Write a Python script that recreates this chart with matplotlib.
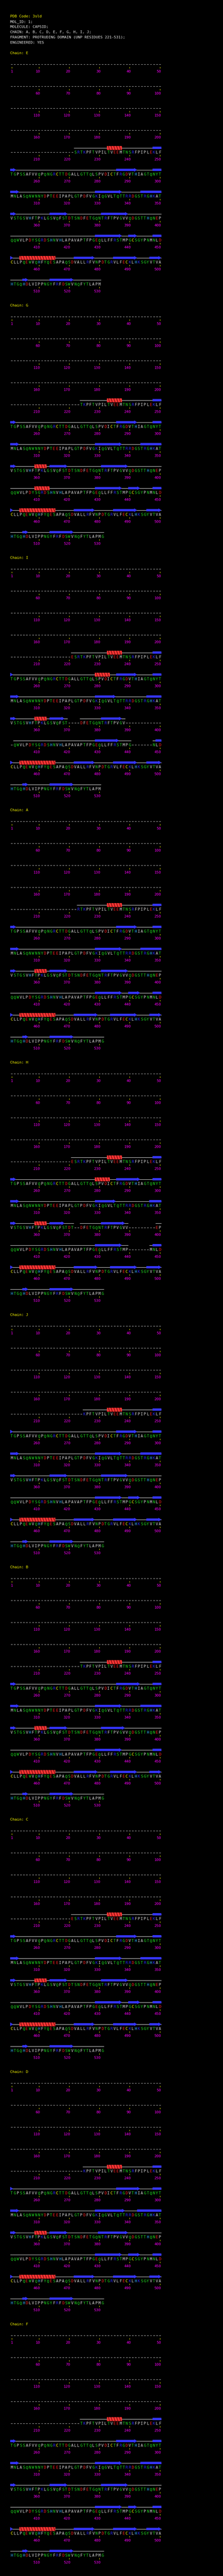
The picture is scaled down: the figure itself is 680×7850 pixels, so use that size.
import matplotlib
matplotlib.use("Agg")
import matplotlib.pyplot as plt
from matplotlib.patches import Polygon, Rectangle
from matplotlib.collections import LineCollection

# ---------------------------------------------------------------- data
PDB_CODE = "3sld"
HEADER_LINES = [
    "MOL_ID: 1;",
    "MOLECULE: CAPSID;",
    "CHAIN: A, B, C, D, E, F, G, H, I, J;",
    "FRAGMENT: PROTRUDING DOMAIN (UNP RESIDUES 221-531);",
    "ENGINEERED: YES",
]

SEQ_FIRST = 221
SEQ_ROWS = [
    "E",
    "SRTKPFTVPILTVEEMTNSRFPIPLEKLF",
    "TGPSSAFVVQPQNGRCTTDGALLGTTQLSPVDICTFRGDVTHIAGTQNYT",
    "MNLASQNWNNYDPTEEIPAPLGTPDFVGKIQGVLTQTTRRDGSTRGHKAT",
    "VSTGSVHFTPKLGSVQFSTDTSNDFETGQNTRFTPVGVVQDGSTTHQNEP",
    "QQWVLPDYSGRDSHNVHLAPAVAPTFPGEQLLFFRSTMPGCSGYPNMNLD",
    "CLLPQEWVQHFYQESAPAQSDVALLRFVNPDTGRVLFECKLHKSGYVTVA",
    "HTGQHDLVIPPNGYFRFDSWVNQFYTLAPMG",
]
SEQUENCE = "".join(SEQ_ROWS)
NUMBERING_END = 531

CHAINS = ["E", "G", "I", "A", "H", "J", "B", "C", "D", "F"]
CHAIN_FIRST = [222, 224, 221, 223, 221, 225, 224, 221, 225, 224]
CHAIN_LAST = [530, 531, 530, 531, 531, 531, 531, 531, 531, 531]
CHAIN_GAPS = {
    "I": [(370, 373), (389, 401), (441, 447)],
    "H": [(372, 373), (390, 398), (440, 446)],
}
CHAIN_HELICES = {
    "E": [(233, 237), (454, 465)],
    "G": [(233, 237), (359, 362), (409, 413), (454, 465)],
    "I": [(233, 237), (279, 283), (359, 362), (454, 465)],
    "A": [(233, 237), (359, 362), (454, 465)],
    "H": [(233, 237), (279, 283), (359, 362), (454, 465)],
    "J": [(233, 237), (454, 465)],
    "B": [(233, 237), (359, 362), (454, 465)],
    "C": [(233, 237), (359, 362), (454, 465)],
    "D": [(233, 237), (359, 362), (454, 465)],
    "F": [(233, 237), (454, 465)],
}
CHAIN_STRANDS = {
    "E": [(248, 252), (286, 292), (298, 303), (329, 337), (344, 352), (364, 369), (381, 389),
          (429, 437), (440, 442), (448, 451), (472, 478), (485, 492), (497, 500), (505, 506), (514, 521)],
    "G": [(248, 252), (286, 292), (298, 303), (329, 337), (344, 352), (364, 369), (381, 389),
          (429, 437), (440, 443), (448, 451), (472, 478), (485, 492), (496, 500), (505, 506), (514, 521)],
    "I": [(248, 251), (286, 292), (298, 303), (329, 335), (346, 352), (364, 368), (381, 387),
          (429, 436), (449, 451), (472, 478), (485, 492), (496, 500), (505, 506), (514, 521)],
    "A": [(248, 252), (286, 292), (298, 303), (329, 337), (344, 352), (364, 369), (381, 389),
          (429, 437), (440, 443), (448, 451), (472, 479), (484, 492), (497, 500), (505, 506), (514, 521)],
    "H": [(248, 252), (286, 293), (298, 303), (329, 335), (347, 352), (364, 368), (381, 388),
          (429, 437), (448, 451), (472, 479), (484, 492), (496, 500), (505, 506), (514, 521)],
    "J": [(248, 251), (286, 292), (298, 303), (329, 337), (344, 352), (364, 369), (381, 389),
          (429, 437), (440, 443), (448, 451), (472, 478), (485, 492), (496, 500), (505, 506), (514, 521)],
    "B": [(248, 252), (286, 293), (298, 303), (329, 337), (344, 352), (364, 369), (381, 388),
          (429, 437), (448, 451), (472, 479), (484, 492), (497, 500), (505, 506), (514, 521)],
    "C": [(248, 252), (286, 292), (298, 303), (329, 337), (344, 352), (364, 369), (381, 389),
          (429, 437), (440, 443), (448, 451), (472, 478), (485, 492), (497, 500), (505, 506), (514, 521)],
    "D": [(248, 251), (286, 293), (298, 303), (329, 338), (343, 352), (364, 369), (380, 389),
          (429, 437), (440, 443), (448, 451), (472, 478), (485, 492), (497, 500), (505, 506), (514, 521)],
    "F": [(248, 252), (286, 292), (298, 303), (329, 337), (344, 352), (364, 369), (381, 389),
          (429, 437), (440, 442), (448, 451), (472, 478), (485, 492), (496, 500), (505, 506), (514, 521)],
}

AA_GROUPS = {
    "polar": "STNQGYW",
    "hydrophobic": "AVLIPFM",
    "acidic": "DE",
    "basic": "RK",
    "cys": "C",
    "his": "H",
}

# ---------------------------------------------------------------- style
W, H = 680, 7850
MONO = ["DejaVu Sans Mono"]
GROUP_COLORS = {
    "polar": "#22dd22",
    "hydrophobic": "#dcdcdc",
    "acidic": "#ff2020",
    "basic": "#2a2aff",
    "cys": "#ffff00",
    "his": "#33b0ff",
}
YELLOW = "#ffff00"
WHITE = "#f0f0f0"
MAGENTA = "#ff00ff"
DASH_COL = "#c8c8c8"
STRAND_COL = "#3535ff"
HELIX_BRIGHT = "#ff3535"
HELIX_DARK = "#8c1616"

X0, DX = 35.67, 9.2245
PER_ROW = 50
TEXT_X = 31.0
HEADER_Y0, HEADER_DY = 48.7, 16.0
CHAIN_Y0, CHAIN_PITCH = 160.7, 769.0
FIRST_ROW_DY, ROW_PITCH = 35.3, 67.0
SS_DY = 13.3
FS_TXT = 8.2
FS_RES = 8.4
CAP = 0.729

fig = plt.figure(figsize=(W / 100, H / 100), dpi=100, facecolor="black")
ax = fig.add_axes([0, 0, 1, 1])
ax.set_xlim(0, W)
ax.set_ylim(H, 0)
ax.axis("off")
ax.set_facecolor("black")


def em(fs):
    return fs * 100.0 / 72.0


def ctext(x, y, s, color, fs, ha="left"):
    ax.text(x, y + CAP * em(fs) / 2.0, s, color=color, fontsize=fs,
            family=MONO, ha=ha, va="baseline")


res_color = {}
for grp, letters in AA_GROUPS.items():
    for c in letters:
        res_color[c] = GROUP_COLORS[grp]


def draw_helix(xl, xr, yc):
    h = 12.2
    rect = Rectangle((xl, yc - h / 2), xr - xl, h, facecolor=HELIX_DARK,
                     edgecolor="none", zorder=3)
    ax.add_patch(rect)
    period, sw, slant = 8.4, 5.6, 4.2
    x = xl - slant + 1.0
    while x < xr:
        p = Polygon([(x, yc - h / 2), (x + sw, yc - h / 2),
                     (x + sw + slant, yc + h / 2), (x + slant, yc + h / 2)],
                    closed=True, facecolor=HELIX_BRIGHT, edgecolor="none", zorder=4)
        ax.add_patch(p)
        p.set_clip_path(rect)
        x += period


def draw_strand(xl, xr, yc, head):
    hb, hh = 3.4, 5.6
    if head:
        tip = xr - 0.6
        hl = min(8.6, tip - xl)
        if tip - xl <= 8.6:
            pts = [(xl, yc - hh), (tip, yc), (xl, yc + hh)]
        else:
            pts = [(xl, yc - hb), (tip - hl, yc - hb), (tip - hl, yc - hh), (tip, yc),
                   (tip - hl, yc + hh), (tip - hl, yc + hb), (xl, yc + hb)]
    else:
        pts = [(xl, yc - hb), (xr, yc - hb), (xr, yc + hb), (xl, yc + hb)]
    ax.add_patch(Polygon(pts, closed=True, facecolor=STRAND_COL, edgecolor="none", zorder=3))


# ---------------------------------------------------------------- header
ctext(TEXT_X, HEADER_Y0, f"PDB Code: {PDB_CODE}", YELLOW, FS_TXT)
for i, line in enumerate(HEADER_LINES):
    ctext(TEXT_X, HEADER_Y0 + HEADER_DY * (i + 1), line, WHITE, FS_TXT)

n_rows = (NUMBERING_END + PER_ROW - 1) // PER_ROW
adv = 0.602 * em(FS_TXT)

for k, ch in enumerate(CHAINS):
    L = CHAIN_Y0 + CHAIN_PITCH * k
    ctext(TEXT_X, L, f"Chain: {ch}", YELLOW, FS_TXT)
    first, last = CHAIN_FIRST[k], CHAIN_LAST[k]
    gaps = CHAIN_GAPS.get(ch, [])

    def in_gap(r):
        return any(a <= r <= b for a, b in gaps)

    def present(r):
        return first <= r <= last and not in_gap(r)

    dash_segs, tick_segs, coil_segs = [], [], []
    for row in range(n_rows):
        y = L + FIRST_ROW_DY + ROW_PITCH * row
        ss_y = y - SS_DY
        r0 = row * PER_ROW + 1
        r1 = min(r0 + PER_ROW - 1, NUMBERING_END)

        def xr_(r):
            return X0 + DX * (r - r0)

        run_start = None
        for r in range(r0, r1 + 1):
            x = xr_(r)
            if present(r):
                aa = SEQUENCE[r - SEQ_FIRST]
                ctext(x, y, aa, res_color[aa], FS_RES, ha="center")
                if run_start is None:
                    run_start = r
            else:
                if r < first or in_gap(r):
                    dash_segs.append([(x - 2.4, y), (x + 2.4, y)])
                if run_start is not None:
                    coil_segs.append([(xr_(run_start) - DX / 2, ss_y), (xr_(r - 1) + DX / 2, ss_y)])
                    run_start = None
            if r == 1 or (r % 10 == 0):
                tick_segs.append([(x, y + 7.8), (x, y + 12.3)])
                s = str(r)
                ctext(x - (len(s) - 1) * adv / 2.0, y + 21.2, s, MAGENTA, FS_TXT, ha="center")
        if run_start is not None:
            coil_segs.append([(xr_(run_start) - DX / 2, ss_y), (xr_(r1) + DX / 2, ss_y)])

        for a, b in CHAIN_HELICES[ch]:
            a2, b2 = max(a, r0), min(b, r1)
            if a2 <= b2:
                draw_helix(xr_(a2) - DX / 2, xr_(b2) + DX / 2, ss_y)
        for a, b in CHAIN_STRANDS[ch]:
            a2, b2 = max(a, r0), min(b, r1)
            if a2 <= b2:
                draw_strand(xr_(a2) - DX / 2, xr_(b2) + DX / 2, ss_y, head=(b <= r1))

    ax.add_collection(LineCollection(dash_segs, colors=DASH_COL, linewidths=0.9, zorder=2))
    ax.add_collection(LineCollection(tick_segs, colors=YELLOW, linewidths=0.9, zorder=2))
    ax.add_collection(LineCollection(coil_segs, colors=WHITE, linewidths=0.9, zorder=2))

fig.savefig("out.png", dpi=100, facecolor="black")
